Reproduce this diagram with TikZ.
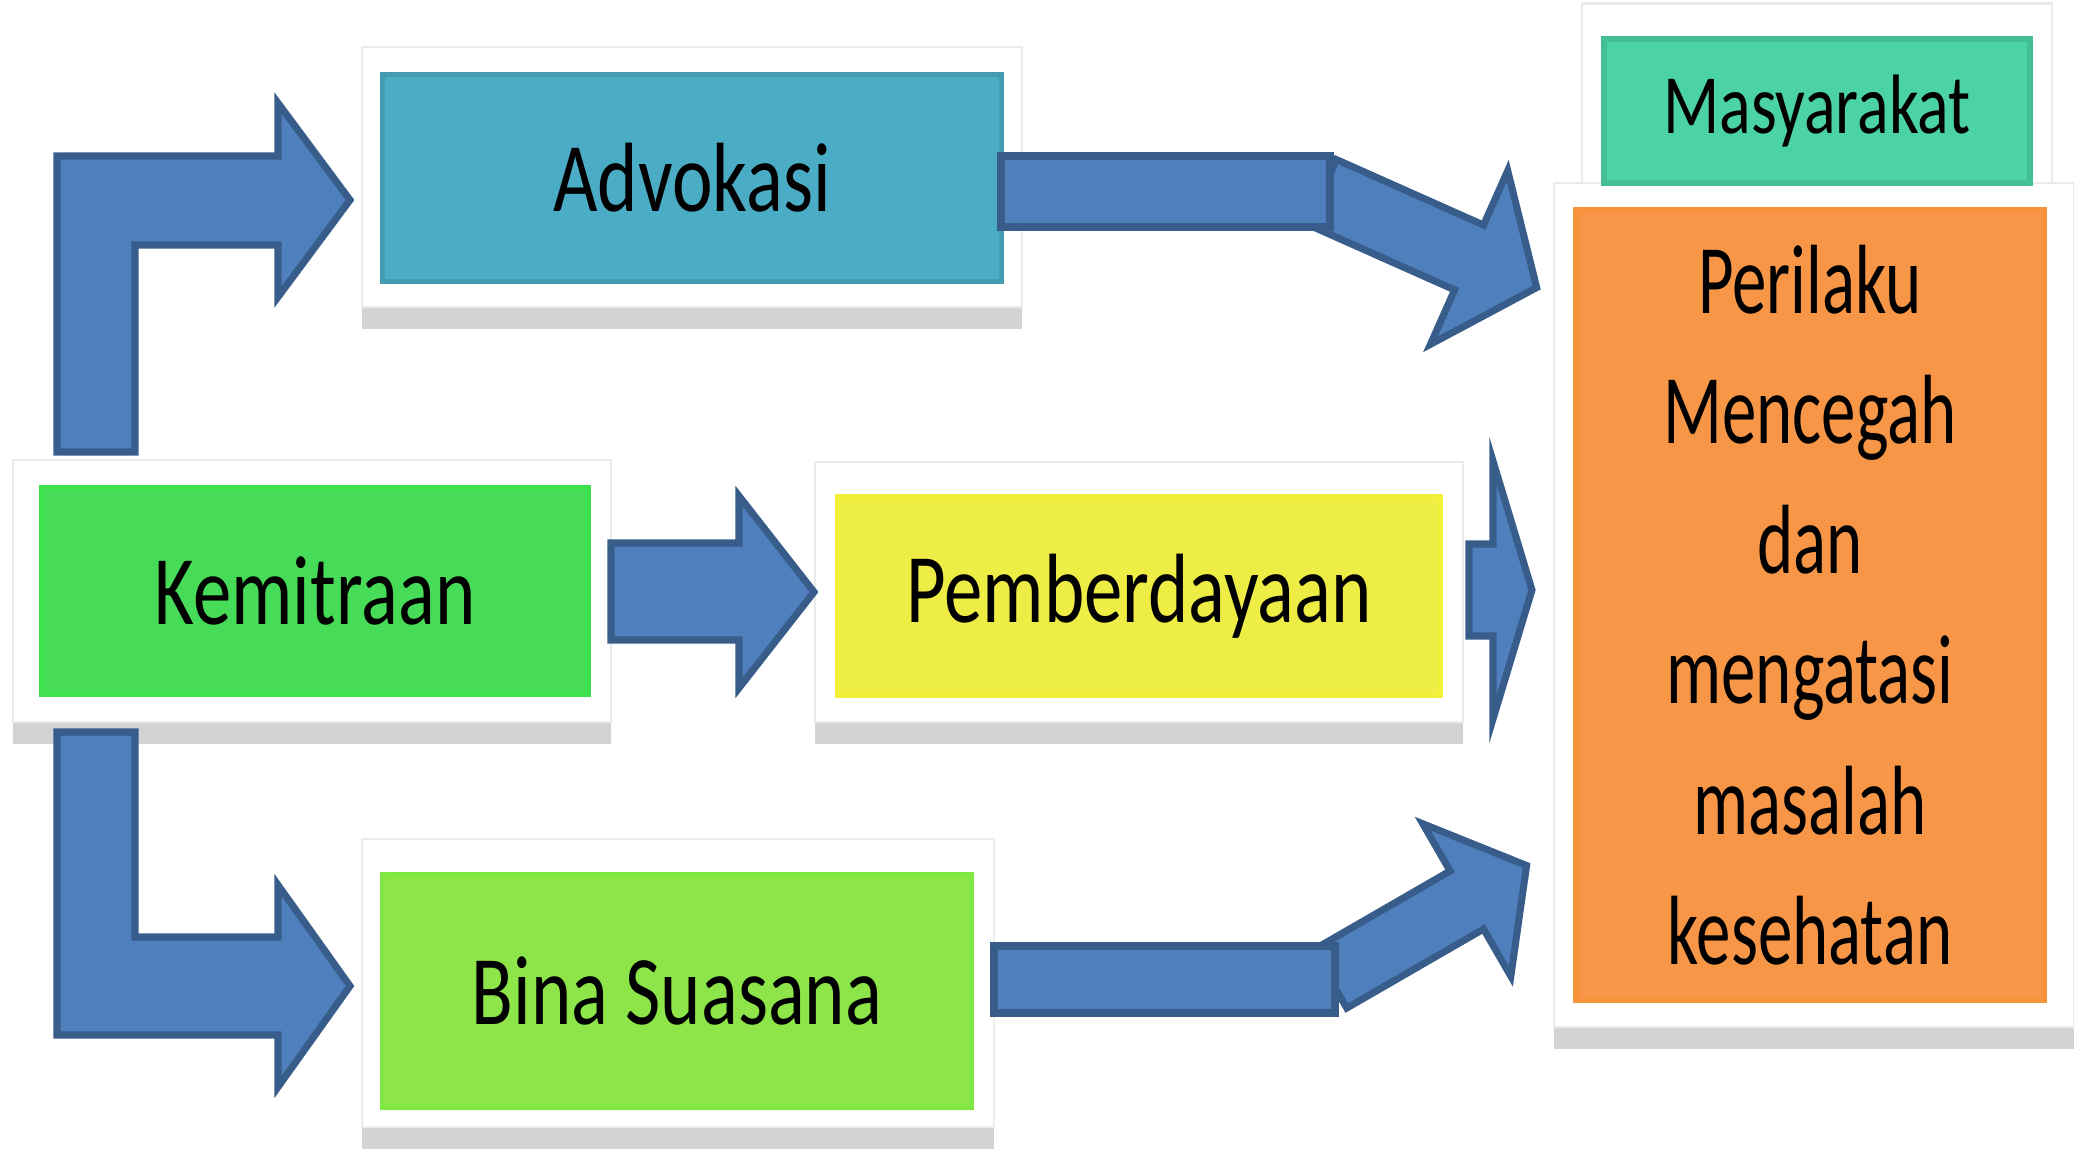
\documentclass[tikz,border=0pt]{standalone}
\usepackage{fontspec}
\newfontfamily\boxfont[FakeStretch=0.78]{Carlito}
\newfontfamily\perifont[FakeStretch=0.70]{Carlito}
\usetikzlibrary{shadows}
\definecolor{advblue}{HTML}{4BACC6}
\definecolor{kemgreen}{HTML}{47DC58}
\definecolor{pemyellow}{HTML}{EDED45}
\definecolor{binagreen}{HTML}{8EE54A}
\definecolor{masygreen}{HTML}{4BD3A3}
\definecolor{periorange}{HTML}{F79646}
\definecolor{arrowblue}{HTML}{4F80BD}
\definecolor{arrowedge}{HTML}{385D8A}

\begin{document}
\begin{tikzpicture}[x=0.01cm,y=-0.01cm,
	panel/.style={rectangle,fill=white,draw=black!8,line width=0.6pt,drop shadow={shadow xshift=0pt,shadow yshift=-2.2mm,opacity=0.35}},
	box/.style={rectangle,line width=1.5pt,text=black,inner sep=0pt,font={\boxfont\fontsize{28}{37}\selectfont}},
	blockarrow/.style={fill=arrowblue,draw=arrowedge,line width=2pt,line join=miter}]
	\useasboundingbox (0,0) rectangle (2074,1154);
	        \node[panel,minimum width=6.60cm,minimum height=2.59cm] at (692,177) (advbg) {};
	        \node[panel,minimum width=5.98cm,minimum height=2.62cm] at (312,591) (kembg) {};
	        \node[panel,minimum width=6.47cm,minimum height=2.60cm] at (1139,592) (pembg) {};
	        \node[panel,minimum width=6.32cm,minimum height=2.87cm] at (678,983) (binabg) {};
	        \node[panel,minimum width=4.69cm,minimum height=1.87cm] at (1817,97) (masybg) {};
	        \node[panel,minimum width=5.20cm,minimum height=8.44cm] at (1814,605) (peribg) {};

	        \node[box,fill=advblue,draw=advblue!90!black,minimum width=6.18cm,minimum height=2.07cm] at (692,178) (adv) {Advokasi};
	        \node[box,fill=kemgreen,draw=kemgreen!85!green,minimum width=5.46cm,minimum height=2.07cm] at (315,591) (kem) {Kemitraan};
	        \node[box,fill=pemyellow,draw=pemyellow!80!yellow,minimum width=6.03cm,minimum height=1.98cm] at (1139,596) (pem) {Pemberdayaan};
	        \node[box,fill=binagreen,draw=binagreen!90!green,minimum width=5.89cm,minimum height=2.32cm] at (677,991) (bina) {Bina Suasana};
	        \node[box,fill=masygreen,draw=masygreen!90!black,minimum width=4.26cm,minimum height=1.44cm,font={\boxfont\fontsize{24}{30}\selectfont}] at (1817,111) (masy) {Masyarakat};
	        \node[box,fill=periorange,draw=periorange!85!orange,minimum width=4.68cm,minimum height=7.90cm,align=center,font={\perifont\fontsize{28}{37}\selectfont}] at (1810,605) (peri) {Perilaku\\Mencegah\\dan\\mengatasi\\masalah\\kesehatan};

		\draw[blockarrow] (57,452) -- (57,156) -- (278,156) -- (278,103) -- (350,200) -- (278,297) -- (278,245) -- (135,245) -- (135,452) -- cycle;
		\draw[blockarrow] (57,732) -- (135,732) -- (135,937) -- (278,937) -- (278,885) -- (350,986) -- (278,1087) -- (278,1035) -- (57,1035) -- cycle;
		\draw[blockarrow] (611,543) -- (739,543) -- (739,496) -- (814,592) -- (739,688) -- (739,640) -- (611,640) -- cycle;
		\draw[blockarrow] (1469,544) -- (1493,544) -- (1493,461) -- (1532,590) -- (1493,719) -- (1493,636) -- (1469,636) -- cycle;

		\begin{scope}[shift={(1322,192)},rotate=-24]
			\draw[blockarrow] (0,-35.5) -- (161,-35.5) -- (161,-95) -- (235,0) -- (161,95) -- (161,35.5) -- (0,35.5) -- cycle;
		\end{scope}
		\draw[blockarrow] (1001,156) rectangle (1330,227);
		\begin{scope}[shift={(1330,979)},rotate=30]
			\draw[blockarrow] (0,-33.5) -- (158,-33.5) -- (158,-88) -- (227,0) -- (158,88) -- (158,33.5) -- (0,33.5) -- cycle;
		\end{scope}
		\draw[blockarrow] (994,946) rectangle (1335,1013);
\end{tikzpicture}
\end{document}
